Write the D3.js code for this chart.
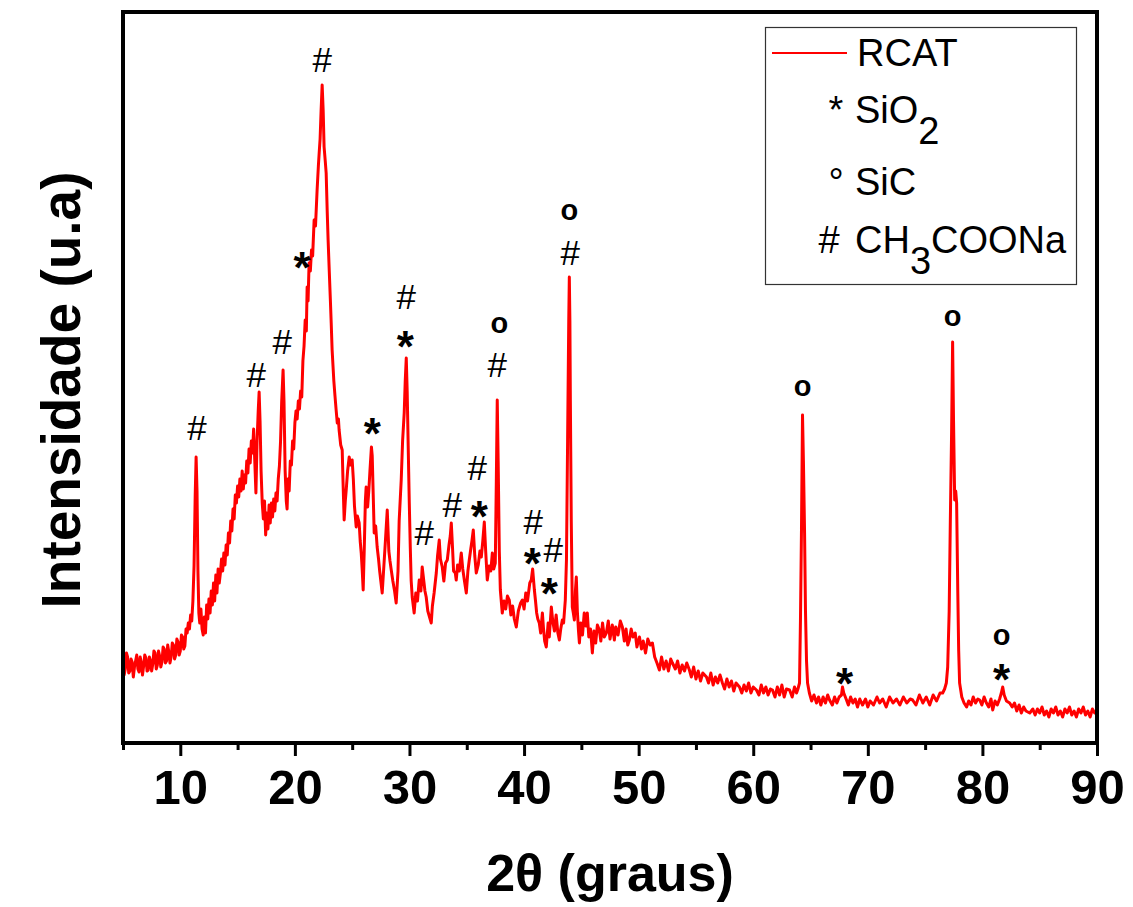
<!DOCTYPE html>
<html>
<head>
<meta charset="utf-8">
<script src="https://cdn.jsdelivr.net/npm/d3@7"></script>
<style>
  html, body { margin: 0; padding: 0; background: #fff; }
  svg { display: block; }
  text { font-family: "Liberation Sans", Arial, sans-serif; }
</style>
</head>
<body>
<svg id="chart" width="1133" height="907"></svg>
<script>
// ---------- data ----------
const seriesName = "RCAT";
const xTickValues = [10, 20, 30, 40, 50, 60, 70, 80, 90];
const xMinorTicks = [5, 15, 25, 35, 45, 55, 65, 75, 85];
const xTitle = "2θ (graus)";
const yTitle = "Intensidade (u.a)";

// [2theta (degrees), intensity (a.u.)]
const pattern = [
[5.0,80],[5.1,66],[5.2,72],[5.3,88],[5.4,84],[5.5,68],[5.6,70],[5.7,82],[5.8,79],[5.9,64],[6.0,74],[6.1,80],[6.2,86],[6.3,72],[6.4,69],[6.5,84],[6.6,78],[6.7,66],[6.8,75],[6.9,86],
[7.0,83],[7.1,70],[7.2,71],[7.3,84],[7.4,80],[7.5,70],[7.6,77],[7.7,90],[7.8,88],[7.9,72],[8.0,76],[8.1,90],[8.2,85],[8.3,74],[8.4,79],[8.5,94],[8.6,92],[8.7,78],[8.8,80],[8.9,96],
[9.0,89],[9.1,78],[9.2,84],[9.3,98],[9.4,96],[9.5,82],[9.6,86],[9.7,102],[9.8,99],[9.9,86],[10.0,90],[10.1,106],[10.2,104],[10.3,92],[10.4,95],[10.5,112],[10.6,108],[10.7,118],
[10.8,112],[10.9,126],[11.0,120],[11.1,140],[11.2,175],[11.3,245],[11.38,284],[11.46,250],[11.54,170],[11.62,128],
[11.7,118],[11.8,132],[11.9,112],[12.0,106],[12.1,124],[12.2,108],[12.3,136],[12.4,122],[12.5,142],[12.6,128],
[12.7,150],[12.8,136],[12.9,158],[13.0,140],[13.1,166],[13.2,148],[13.3,172],[13.4,158],[13.5,168],[13.6,182],
[13.7,170],[13.8,188],[13.9,176],[14.0,196],[14.1,186],[14.2,208],[14.3,198],[14.4,220],[14.5,210],[14.6,232],
[14.7,222],[14.8,246],[14.9,238],[15.0,255],[15.1,244],[15.2,262],[15.3,250],[15.4,270],[15.5,252],[15.6,266],
[15.7,258],[15.8,280],[15.9,268],[16.0,292],[16.1,278],[16.2,300],[16.3,288],[16.4,312],[16.5,280],[16.6,248],
[16.7,300],[16.8,330],[16.88,349],[16.96,320],[17.05,270],[17.15,238],[17.25,222],[17.35,240],[17.45,206],[17.55,228],
[17.65,212],[17.75,236],[17.85,218],[17.95,238],[18.05,224],[18.15,242],[18.25,230],[18.35,248],[18.45,240],[18.55,262],
[18.65,275],[18.75,300],[18.85,340],[18.97,371],[19.05,340],[19.15,270],[19.25,240],[19.32,232],[19.4,262],[19.5,250],
[19.6,280],[19.7,276],[19.8,300],[19.9,292],[20.0,318],[20.1,330],[20.2,322],[20.3,340],[20.4,332],[20.5,350],
[20.6,344],[20.7,380],[20.8,395],[20.9,421],[21.0,410],[21.07,454],[21.15,440],[21.24,478],[21.35,470],[21.45,491],
[21.55,485],[21.68,521],[21.8,515],[21.94,551],[22.05,575],[22.12,588],[22.2,602],[22.29,631],[22.38,656],[22.47,630],
[22.55,594],[22.65,580],[22.73,568],[22.82,530],[22.9,501],[23.0,470],[23.1,440],[23.17,418],[23.25,391],[23.4,360],
[23.5,345],[23.6,331],[23.7,318],[23.8,322],[23.86,311],[24.0,296],[24.13,291],[24.2,260],[24.3,221],[24.4,240],
[24.48,251],[24.6,270],[24.74,284],[24.85,276],[25.0,281],[25.1,262],[25.2,235],[25.35,214],[25.45,225],[25.61,218],
[25.7,200],[25.79,188],[25.88,170],[25.96,151],[26.05,190],[26.15,240],[26.22,254],[26.35,234],[26.45,250],[26.55,270],
[26.68,294],[26.75,285],[26.85,240],[26.92,208],[27.05,215],[27.18,194],[27.3,182],[27.4,170],[27.5,160],[27.62,148],
[27.75,172],[27.9,200],[28.06,231],[28.2,190],[28.3,180],[28.41,171],[28.55,160],[28.7,150],[28.84,138],[29.0,170],
[29.1,220],[29.28,261],[29.4,300],[29.54,328],[29.63,360],[29.72,383],[29.8,350],[29.89,294],[29.98,240],[30.07,194],
[30.15,160],[30.24,144],[30.41,128],[30.55,148],[30.7,140],[30.85,161],[31.0,150],[31.11,174],[31.25,160],[31.35,150],
[31.46,144],[31.6,130],[31.75,124],[31.9,118],[32.0,135],[32.15,148],[32.34,168],[32.45,185],[32.6,201],[32.7,182],
[32.86,174],[33.0,160],[33.15,178],[33.3,181],[33.45,196],[33.56,205],[33.65,218],[33.75,195],[33.85,170],[34.0,168],
[34.08,161],[34.2,176],[34.35,170],[34.52,188],[34.65,172],[34.8,160],[34.96,148],[35.1,170],[35.22,181],[35.35,192],
[35.45,200],[35.57,211],[35.7,185],[35.83,168],[36.0,176],[36.15,190],[36.27,184],[36.4,200],[36.53,219],[36.65,190],
[36.79,161],[36.95,175],[37.1,170],[37.23,188],[37.35,172],[37.49,178],[37.58,260],[37.66,341],[37.74,280],[37.84,190],
[37.93,151],[38.1,128],[38.25,140],[38.4,132],[38.55,145],[38.71,141],[38.85,126],[39.0,135],[39.15,122],[39.32,114],
[39.5,130],[39.7,138],[39.85,141],[40.0,132],[40.15,148],[40.3,140],[40.5,158],[40.63,161],[40.75,172],[40.9,151],
[41.0,140],[41.1,128],[41.2,122],[41.33,118],[41.45,108],[41.6,128],[41.7,112],[41.8,100],[41.94,94],[42.1,118],
[42.2,104],[42.38,134],[42.5,120],[42.65,110],[42.8,126],[42.95,108],[43.08,101],[43.2,112],[43.34,121],[43.45,118],
[43.6,141],[43.7,181],[43.8,300],[43.9,420],[43.95,464],[44.0,420],[44.04,341],[44.12,220],[44.21,134],[44.3,128],
[44.39,121],[44.48,150],[44.56,164],[44.65,130],[44.75,110],[44.83,98],[44.95,118],[45.1,106],[45.25,128],[45.4,115],
[45.52,128],[45.65,104],[45.8,112],[45.96,88],[46.1,110],[46.25,98],[46.4,116],[46.57,111],[46.7,100],[46.85,118],
[47.0,104],[47.18,108],[47.35,120],[47.5,102],[47.7,116],[47.88,101],[48.0,114],[48.2,106],[48.4,120],[48.58,114],
[48.75,100],[48.9,112],[49.05,96],[49.19,101],[49.35,112],[49.5,104],[49.7,108],[49.85,94],[50.07,104],[50.25,92],
[50.4,100],[50.6,88],[50.8,102],[51.0,96],[51.2,98],[51.4,84],[51.6,78],[51.81,71],[52.0,84],[52.2,72],
[52.4,80],[52.6,70],[52.8,82],[52.95,78],[53.2,72],[53.4,80],[53.6,68],[53.8,76],[54.0,70],[54.2,78],
[54.43,71],[54.6,64],[54.8,74],[55.0,62],[55.2,70],[55.4,60],[55.6,68],[55.92,64],[56.1,58],[56.3,68],
[56.5,56],[56.7,64],[56.9,58],[57.1,66],[57.31,58],[57.5,52],[57.7,62],[57.9,54],[58.1,60],[58.3,50],
[58.5,58],[58.8,54],[59.0,48],[59.2,56],[59.4,50],[59.6,58],[59.8,48],[60.0,54],[60.28,51],[60.5,46],
[60.7,56],[60.9,48],[61.1,54],[61.3,46],[61.5,52],[61.68,51],[61.9,44],[62.1,54],[62.3,46],[62.5,56],
[62.7,44],[62.9,52],[63.17,51],[63.4,44],[63.6,54],[63.78,48],[63.9,52],[64.04,58],[64.12,120],[64.21,211],
[64.3,326],[64.38,280],[64.48,208],[64.56,130],[64.65,80],[64.74,58],[64.9,48],[65.1,40],[65.3,46],[65.52,38],
[65.7,44],[65.9,36],[66.1,44],[66.3,38],[66.5,46],[66.66,41],[66.9,36],[67.1,44],[67.3,38],[67.5,44],
[67.7,46],[67.79,54],[67.9,48],[68.14,41],[68.3,36],[68.5,44],[68.7,38],[68.9,42],[69.1,34],[69.3,42],
[69.54,36],[69.8,42],[70.0,34],[70.2,40],[70.5,36],[70.8,44],[71.03,38],[71.3,42],[71.6,34],[71.9,44],
[72.2,38],[72.5,42],[72.8,36],[73.1,44],[73.4,38],[73.7,42],[73.91,41],[74.2,36],[74.5,46],[74.8,38],
[75.1,44],[75.4,36],[75.7,46],[76.0,40],[76.3,48],[76.53,48],[76.7,52],[76.85,58],[76.97,74],[77.1,130],
[77.2,220],[77.31,308],[77.4,399],[77.48,320],[77.58,241],[77.67,250],[77.75,238],[77.85,150],[77.93,90],[78.01,58],
[78.2,44],[78.4,38],[78.62,34],[78.8,40],[79.0,36],[79.2,44],[79.4,38],[79.6,42],[79.76,41],[79.95,36],
[80.15,44],[80.35,38],[80.55,34],[80.75,42],[80.9,31],[81.1,40],[81.3,36],[81.5,42],[81.65,48],[81.77,54],
[81.9,46],[82.1,40],[82.38,38],[82.6,34],[82.8,38],[83.0,30],[83.2,36],[83.4,28],[83.6,34],[83.8,30],
[84.13,28],[84.4,32],[84.6,26],[84.8,32],[85.0,28],[85.2,34],[85.4,26],[85.6,30],[85.8,24],[86.0,32],
[86.2,28],[86.4,34],[86.6,26],[86.8,30],[87.0,24],[87.2,32],[87.4,28],[87.6,34],[87.8,26],[88.0,30],
[88.2,24],[88.4,32],[88.6,28],[88.8,34],[89.0,26],[89.2,30],[89.4,24],[89.6,32],[89.8,28],[90.0,30]
];

// phase markers: angle, height (same units as intensity), symbol
const markAngles  = [11.46, 16.62, 18.89, 20.63, 22.38, 29.72, 29.63, 26.75, 37.84, 37.66, 43.95, 44.04, 31.29, 33.73, 35.92, 36.09, 40.81, 40.72, 42.55, 42.21, 64.30, 67.97, 77.40, 81.68, 81.68];
const markLevels  = [313, 366, 399, 484, 681, 444, 405, 318, 416, 376, 529, 488, 208, 236, 273, 235, 219, 188, 191, 158, 353, 68, 423, 104, 72];
const markSymbols = ["#", "#", "#", "*", "#", "#", "*", "*", "o", "#", "o", "#", "#", "#", "#", "*", "#", "*", "#", "*", "o", "*", "o", "o", "*"];

// legend entries for phases
const legendSymbols = ["*", "°", "#"];
const legendNames = [["SiO", "2"], ["SiC", ""], ["CH", "3", "COONa"]];

// ---------- drawing ----------
const svg = d3.select("#chart");
const plotLeft = 123, plotRight = 1097, plotTop = 12, plotBottom = 743;

const x = d3.scaleLinear().domain([5, 90]).range([plotLeft, plotRight]);
const y = d3.scaleLinear().domain([-2, 729]).range([plotBottom, plotTop]);

// curve
const line = d3.line().x(d => x(d[0])).y(d => y(d[1]));
svg.append("path")
  .datum(pattern)
  .attr("d", line)
  .attr("fill", "none")
  .attr("stroke", "#ff0000")
  .attr("stroke-width", 3)
  .attr("stroke-linejoin", "round");

// markers
const markStyle = {
  "#": { size: 35, weight: "normal", lift: 0.35 },
  "*": { size: 44, weight: "bold", lift: 0.58 },
  "o": { size: 29, weight: "bold", lift: 0.26 }
};
svg.append("g").selectAll("text")
  .data(markSymbols.map((s, i) => ({ s, a: markAngles[i], h: markLevels[i] })))
  .join("text")
  .attr("x", d => x(d.a))
  .attr("y", d => y(d.h) + markStyle[d.s].lift * markStyle[d.s].size)
  .attr("text-anchor", "middle")
  .attr("font-size", d => markStyle[d.s].size)
  .attr("font-weight", d => markStyle[d.s].weight)
  .attr("fill", "#000")
  .text(d => d.s);

// x axis major
const axMajor = svg.append("g")
  .attr("transform", `translate(0,${plotBottom})`)
  .call(d3.axisBottom(x).tickValues(xTickValues).tickFormat(d3.format("d"))
    .tickSize(13).tickSizeOuter(0).tickPadding(13));
axMajor.select(".domain").remove();
axMajor.selectAll(".tick line").attr("stroke", "#000").attr("stroke-width", 3);
axMajor.selectAll(".tick text")
  .attr("font-family", "'Liberation Sans', Arial, sans-serif")
  .attr("font-size", 49).attr("font-weight", "bold").attr("fill", "#000");

const axMinor = svg.append("g")
  .attr("transform", `translate(0,${plotBottom})`)
  .call(d3.axisBottom(x).tickValues(xMinorTicks).tickFormat("").tickSize(7).tickSizeOuter(0));
axMinor.select(".domain").remove();
axMinor.selectAll(".tick line").attr("stroke", "#000").attr("stroke-width", 3);

// frame
svg.append("rect")
  .attr("x", plotLeft).attr("y", plotTop)
  .attr("width", plotRight - plotLeft).attr("height", plotBottom - plotTop)
  .attr("fill", "none").attr("stroke", "#000").attr("stroke-width", 4);

// axis titles
svg.append("text")
  .attr("x", (plotLeft + plotRight) / 2).attr("y", 891)
  .attr("text-anchor", "middle")
  .attr("font-size", 52).attr("font-weight", "bold")
  .text(xTitle);

svg.append("text")
  .attr("transform", "translate(80,390) rotate(-90)")
  .attr("text-anchor", "middle")
  .attr("font-size", 55).attr("font-weight", "bold")
  .text(yTitle);

// legend
const lg = svg.append("g");
lg.append("rect")
  .attr("x", 765.5).attr("y", 27.5).attr("width", 311).attr("height", 257)
  .attr("fill", "#fff").attr("stroke", "#333").attr("stroke-width", 1.2);
lg.append("line")
  .attr("x1", 772).attr("x2", 847).attr("y1", 53).attr("y2", 53)
  .attr("stroke", "#ff0000").attr("stroke-width", 2);
lg.append("text").attr("x", 857).attr("y", 66).attr("font-size", 38).text(seriesName);

const rowBase = [123, 195, 253];
const symX = [836, 836, 829];
legendSymbols.forEach((s, i) => {
  lg.append("text").attr("x", symX[i]).attr("y", rowBase[i]).attr("text-anchor", "middle")
    .attr("font-size", 38).text(s);
  const t = lg.append("text").attr("x", 855).attr("y", rowBase[i]).attr("font-size", 38);
  const parts = legendNames[i];
  t.append("tspan").text(parts[0]);
  if (parts[1]) t.append("tspan").attr("dy", 21).text(parts[1]);
  if (parts[2]) t.append("tspan").attr("dy", -21).text(parts[2]);
});
</script>
</body>
</html>
